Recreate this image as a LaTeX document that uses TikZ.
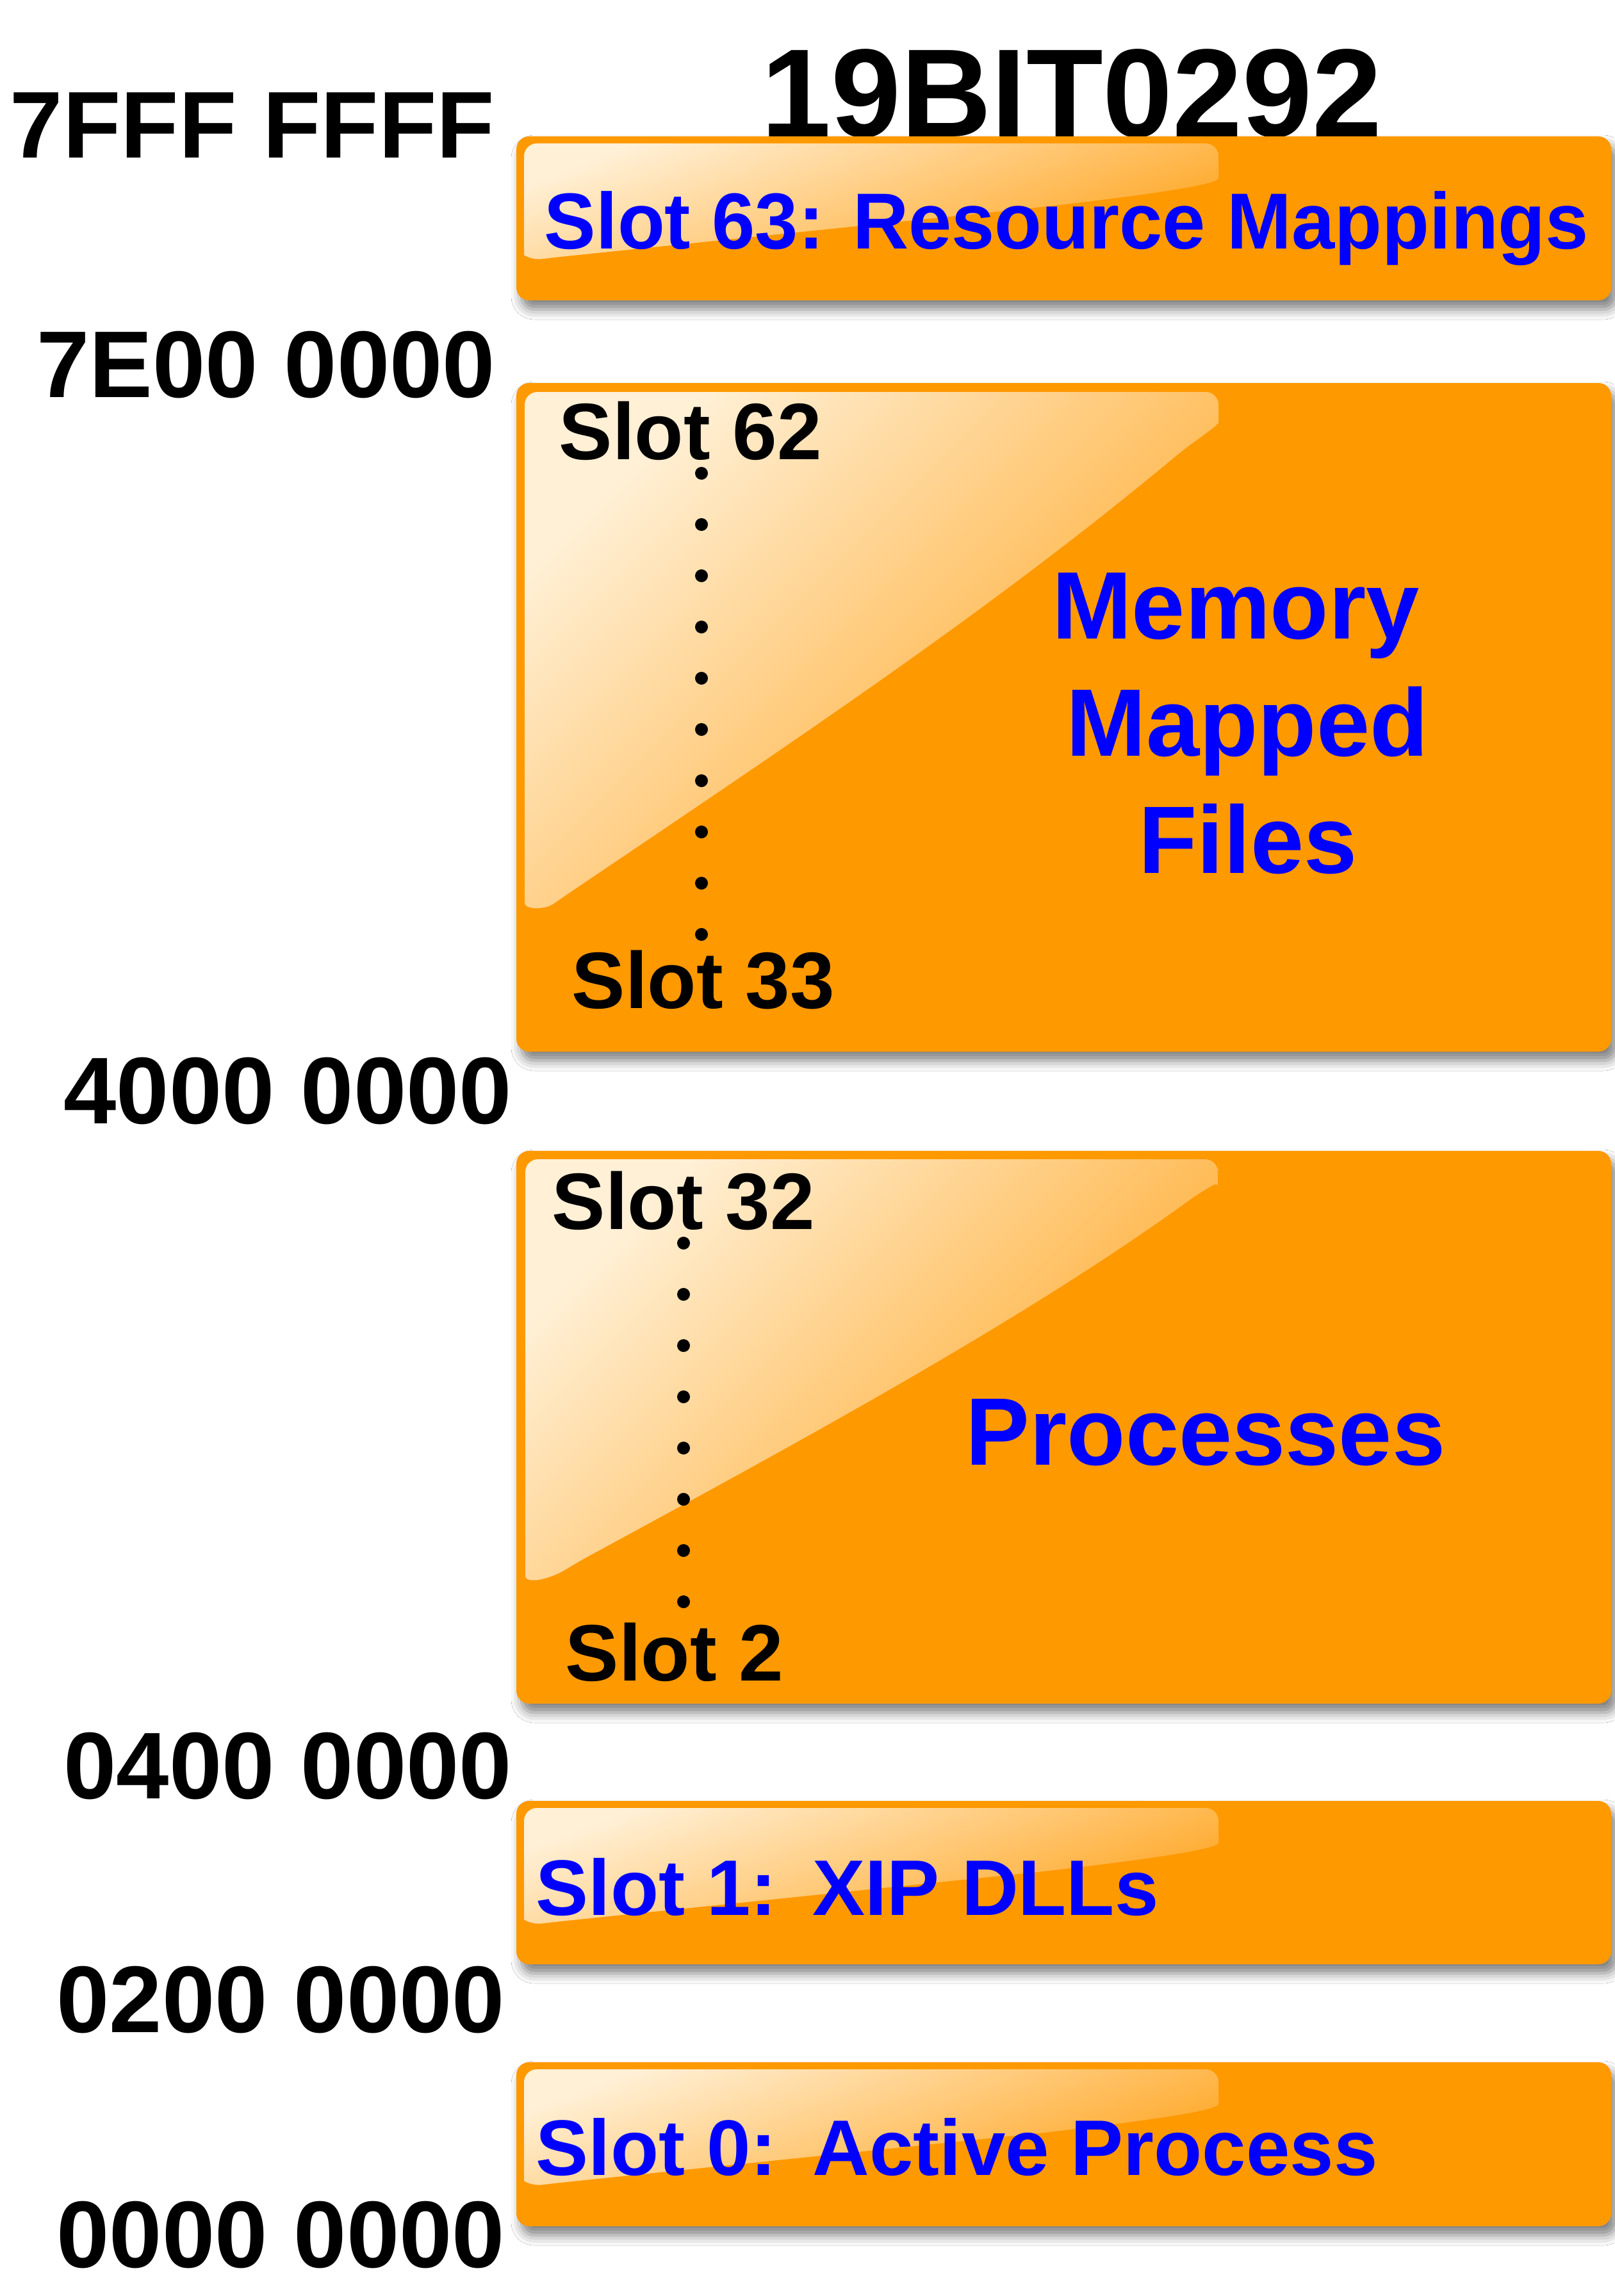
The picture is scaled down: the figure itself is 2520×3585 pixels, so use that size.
\documentclass[tikz,border=0pt]{standalone}
\usepackage{fontspec}
\setmainfont{Liberation Sans}
\usetikzlibrary{shadows.blur}
\definecolor{boxorange}{RGB}{255,153,0}
\definecolor{glosstop}{RGB}{255,240,214}
\definecolor{glossmid}{RGB}{255,190,92}
\definecolor{glossend}{RGB}{255,164,30}
\definecolor{txtblue}{RGB}{0,0,255}
\begin{document}
\begin{tikzpicture}[x=0.25pt,y=-0.25pt,
  addr/.style={font=\fontsize{37pt}{44pt}\selectfont\bfseries, anchor=base east, inner sep=0pt, text=black},
  slotbox/.style={fill=boxorange, rounded corners=5pt,
     blur shadow={shadow xshift=2pt, shadow yshift=-3.5pt, shadow blur radius=4pt, shadow opacity=50}},
  gloss/.style={top color=glosstop, middle color=glossmid, bottom color=glossend, shading angle=45, rounded corners=5pt},
  smallgloss/.style={top color=glosstop, middle color=glossmid, bottom color=glossend, shading angle=20, rounded corners=5pt},
  slotlbl/.style={font=\fontsize{31.25pt}{36pt}\selectfont\bfseries, anchor=base west, inner sep=0pt, text=black},
  bluelbl/.style={font=\fontsize{31pt}{36pt}\selectfont\bfseries, anchor=base west, inner sep=0pt, text=txtblue},
  bigblue/.style={font=\fontsize{37.4pt}{44pt}\selectfont\bfseries, anchor=base, inner sep=0pt, text=txtblue},
  dotmark/.style={fill=black}
]
\useasboundingbox (0,0) rectangle (2520,3585);
\fill[white] (0,0) rectangle (2520,3585);

% title (partly covered by the first box)
\node[font=\fontsize{49pt}{56pt}\selectfont\bfseries, anchor=base, inner sep=0pt] (title) at (1673,214) {19BIT0292};

% address labels
\node[addr] (a7fff) at (773,247) {7FFF FFFF};
\node[addr] (a7e00) at (774,620) {7E00 0000};
\node[addr] (a4000) at (800,1754) {4000 0000};
\node[addr] (a0400) at (800,2808) {0400 0000};
\node[addr] (a0200) at (789,3173) {0200 0000};
\node[addr] (a0000) at (789,3540) {0000 0000};

% boxes
\path[slotbox] (806,213) rectangle (2515,469);
\path[slotbox] (806,598) rectangle (2515,1642);
\path[slotbox] (806,1797) rectangle (2515,2660);
\path[slotbox] (806,2812) rectangle (2515,3067);
\path[slotbox] (806,3220) rectangle (2515,3476);

% gloss highlights, small boxes
\foreach \yy in {213,2812,3220}{
  \path[smallgloss] (818,\yy+120) -- (818,\yy+11) -- (1902,\yy+11) -- (1902,\yy+45)
     .. controls (1902,\yy+75) and (1800,\yy+90) .. (1629,\yy+110)
     -- (865,\yy+189) .. controls (832,\yy+193) and (818,\yy+186) .. (818,\yy+165) -- cycle;
}
% gloss highlight, box 2
\path[gloss] (819,1000) -- (819,612) -- (1902,612) -- (1902,640)
   .. controls (1902,662) and (1885,675) .. (1850,700)
   .. controls (1550,950) and (1250,1150) .. (880,1400)
   .. controls (850,1421) and (819,1420) .. (819,1390) -- cycle;
% gloss highlight, box 3
\path[gloss] (820,2200) -- (820,1810) -- (1901,1810) -- (1901,1832)
   .. controls (1901,1846) and (1893,1851) .. (1873,1862)
   .. controls (1600,2060) and (1250,2250) .. (900,2440)
   .. controls (860,2465) and (820,2475) .. (820,2440) -- cycle;

% texts in boxes
\node[bluelbl] (s63) at (849,389) {\scalebox{0.975}[1]{Slot 63: Resource Mappings}};

\node[slotlbl] (s62) at (872,717) {Slot 62};
\node[slotlbl] (s33) at (892,1574) {Slot 33};
\foreach \k in {0,...,9}{ \fill[dotmark] (1095,739+80*\k) circle (2.5pt); }
\node[bigblue] (mem1) at (1929,997) {Memory};
\node[bigblue] (mem2) at (1947,1180) {Mapped};
\node[bigblue] (mem3) at (1948,1363) {Files};

\node[slotlbl] (s32) at (861,1919) {Slot 32};
\node[slotlbl] (s2) at (882,2624) {Slot 2};
\foreach \k in {0,...,7}{ \fill[dotmark] (1067,1941+80*\k) circle (2.5pt); }
\node[bigblue] (proc) at (1882,2287) {Processes};

\node[bluelbl, font=\fontsize{30.75pt}{36pt}\selectfont\bfseries] (s1) at (836,2990) {Slot 1:\hspace{14pt}XIP DLLs};
\node[bluelbl, font=\fontsize{30.75pt}{36pt}\selectfont\bfseries] (s0) at (836,3396) {Slot 0:\hspace{14pt}Active Process};
\end{tikzpicture}
\end{document}
